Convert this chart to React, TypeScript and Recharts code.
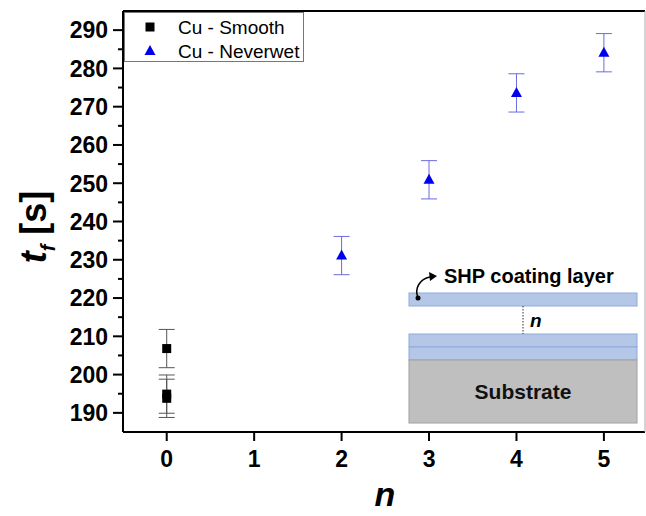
import { ScatterChart, Scatter, XAxis, YAxis, ErrorBar, Legend } from "recharts";

// number of layers n vs freezing time t_f [s]
const smoothN = [0, 0, 0];
const smoothT = [206.8, 194.9, 193.8];
const smoothErr = [5, 5, 5];

const neverwetN = [2, 3, 4, 5];
const neverwetT = [231.1, 250.9, 273.6, 284.1];
const neverwetErr = [5, 5, 5, 5];

const xTicks = [0, 1, 2, 3, 4, 5];
const yTicks = [190, 195, 200, 205, 210, 215, 220, 225, 230, 235, 240, 245, 250, 255, 260, 265, 270, 275, 280, 285, 290];

const smoothData = smoothN.map((n, i) => ({ n, t: smoothT[i], err: smoothErr[i] }));
const neverwetData = neverwetN.map((n, i) => ({ n, t: neverwetT[i], err: neverwetErr[i] }));

const FONT = "'Liberation Sans', Arial, sans-serif";

const Square = (p: any) => <rect x={p.cx - 4.5} y={p.cy - 4.5} width={9} height={9} fill="#000" />;
const Triangle = (p: any) => (
  <polygon points={`${p.cx},${p.cy - 6} ${p.cx - 5.5},${p.cy + 4} ${p.cx + 5.5},${p.cy + 4}`} fill="#0000ee" />
);

const YTick = (p: any) => {
  const v = p.payload.value;
  const major = v % 10 === 0;
  return (
    <g>
      <line x1={p.x - (major ? 10 : 5)} x2={p.x} y1={p.y} y2={p.y} stroke="#000" strokeWidth={2} />
      {major && (
        <text x={p.x - 15} y={p.y} dy="0.36em" textAnchor="end" fontFamily={FONT} fontWeight="bold" fontSize={23} fill="#000">
          {v}
        </text>
      )}
    </g>
  );
};

const LegendBox = () => (
  <div
    style={{
      width: 180,
      height: 50,
      border: "1px solid #777",
      background: "#fff",
      fontFamily: FONT,
      fontSize: 19,
      boxSizing: "border-box",
      position: "relative",
    }}
  >
    <svg width={180} height={50} style={{ position: "absolute", left: 0, top: 0 }}>
      <Square cx={25} cy={14} />
      <Triangle cx={25} cy={38} />
      <text x={53} y={21} fontFamily={FONT} fontSize={19} fill="#000">Cu - Smooth</text>
      <text x={53} y={45} fontFamily={FONT} fontSize={19} fill="#000">Cu - Neverwet</text>
    </svg>
  </div>
);

const Inset = () => (
  <svg width={646} height={516} style={{ position: "absolute", left: 0, top: 0, pointerEvents: "none" }}>
    <text
      transform="translate(46,227) rotate(-90)"
      textAnchor="middle"
      fontFamily={FONT}
      fontWeight="bold"
      fontSize={36}
      fill="#000"
    >
      <tspan fontStyle="italic">t</tspan>
      <tspan fontStyle="italic" fontSize={20} dy={9}>f</tspan>
      <tspan dy={-9}> [s]</tspan>
    </text>
    <text x={385} y={506} textAnchor="middle" fontFamily={FONT} fontWeight="bold" fontStyle="italic" fontSize={34} fill="#000">
      n
    </text>

    <rect x={409} y={293} width={228} height={13} fill="#b4c7e7" stroke="#8eaadb" />
    <rect x={409} y={334} width={228} height={13} fill="#b4c7e7" stroke="#8eaadb" />
    <rect x={409} y={347} width={228} height={13} fill="#b4c7e7" stroke="#8eaadb" />
    <rect x={409} y={360} width={228} height={63} fill="#bfbfbf" stroke="#a0a0a0" />
    <line x1={523} x2={523} y1={306} y2={334} stroke="#333" strokeDasharray="1.5 1.5" />
    <text x={530} y={327} fontFamily={FONT} fontWeight="bold" fontStyle="italic" fontSize={19} fill="#000">n</text>
    <text x={523} y={399} textAnchor="middle" fontFamily={FONT} fontWeight="bold" fontSize={21} fill="#111">Substrate</text>
    <text x={444} y={283} fontFamily={FONT} fontWeight="bold" fontSize={20} fill="#000">SHP coating layer</text>
    <circle cx={418} cy={298} r={2.5} fill="#000" />
    <path d="M418,298 C414,288 420,279 430,277" fill="none" stroke="#000" strokeWidth={1.5} />
    <polygon points="437,276 429,272 430,281" fill="#000" />
  </svg>
);

export default function App() {
  return (
    <div style={{ position: "absolute", left: 0, top: 0, width: 646, height: 516, background: "#fff" }}>
      <ScatterChart width={646} height={516} margin={{ top: 0, right: 0, bottom: 0, left: 0 }}>
        <XAxis
          dataKey="n"
          type="number"
          domain={[-0.5, 5.47]}
          ticks={xTicks}
          height={84}
          tickSize={9}
          tickMargin={10}
          axisLine={{ stroke: "#000", strokeWidth: 2 }}
          tickLine={{ stroke: "#000", strokeWidth: 2 }}
          tick={{ fill: "#000", fontFamily: FONT, fontWeight: "bold", fontSize: 23 }}
          allowDataOverflow
        />
        <XAxis
          xAxisId="top"
          orientation="top"
          type="number"
          domain={[-0.5, 5.47]}
          ticks={xTicks}
          height={11}
          tickSize={9}
          tickFormatter={() => ""}
          axisLine={{ stroke: "#000", strokeWidth: 2 }}
          tickLine={{ stroke: "#000", strokeWidth: 2 }}
          allowDataOverflow
        />
        <YAxis
          dataKey="t"
          type="number"
          domain={[185, 295]}
          ticks={yTicks}
          width={123}
          tickSize={0}
          tickMargin={0}
          tickLine={false}
          tick={<YTick />}
          axisLine={{ stroke: "#000", strokeWidth: 2 }}
          interval={0}
          allowDataOverflow
        />
        <YAxis
          yAxisId="right"
          orientation="right"
          type="number"
          domain={[185, 295]}
          width={1}
          tick={false}
          tickLine={false}
          axisLine={{ stroke: "#aaa", strokeWidth: 1 }}
        />
        <Legend
          layout="horizontal"
          verticalAlign="middle"
          align="center"
          wrapperStyle={{ position: "absolute", left: 124, top: 12, width: 180, height: 50 }}
          content={() => <LegendBox />}
        />
        <Scatter name="Cu - Smooth" data={smoothData} shape={Square} isAnimationActive={false}>
          <ErrorBar dataKey="err" direction="y" width={8} stroke="#555" strokeWidth={1} />
        </Scatter>
        <Scatter name="Cu - Neverwet" data={neverwetData} shape={Triangle} isAnimationActive={false}>
          <ErrorBar dataKey="err" direction="y" width={8} stroke="#6b6be0" strokeWidth={1} />
        </Scatter>
      </ScatterChart>
      <Inset />
    </div>
  );
}
